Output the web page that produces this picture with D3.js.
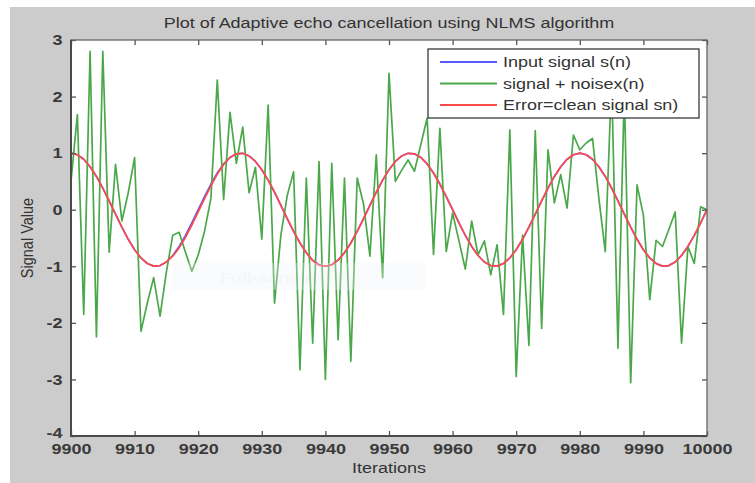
<!DOCTYPE html>
<html>
<head>
<meta charset="utf-8">
<script src="https://cdn.jsdelivr.net/npm/d3@7/dist/d3.min.js"></script>
<style>
  body { margin: 0; background: #ffffff; }
  text { font-family: Arial, "Liberation Sans", sans-serif; }
</style>
</head>
<body>
<div id="plot"></div>
<script>
// iteration index on the x axis
var iterations = d3.range(9900, 10001);
var xTicks = [9900, 9910, 9920, 9930, 9940, 9950, 9960, 9970, 9980, 9990, 10000];
var yTicks = [-4, -3, -2, -1, 0, 1, 2, 3];

// input signal s(n)
var inputSignal = [
  1.000, 0.972, 0.891, 0.760, 0.588, 0.383, 0.156, -0.078, -0.309, -0.523,
  -0.707, -0.853, -0.951, -0.997, -0.988, -0.924, -0.809, -0.649, -0.454, -0.233,
  0.000, 0.233, 0.454, 0.649, 0.809, 0.924, 0.988, 0.997, 0.951, 0.853,
  0.707, 0.523, 0.309, 0.078, -0.156, -0.383, -0.588, -0.760, -0.891, -0.972,
  -1.000, -0.972, -0.891, -0.760, -0.588, -0.383, -0.156, 0.078, 0.309, 0.523,
  0.707, 0.853, 0.951, 0.997, 0.988, 0.924, 0.809, 0.649, 0.454, 0.233,
  0.000, -0.233, -0.454, -0.649, -0.809, -0.924, -0.988, -0.997, -0.951, -0.853,
  -0.707, -0.523, -0.309, -0.078, 0.156, 0.383, 0.588, 0.760, 0.891, 0.972,
  1.000, 0.972, 0.891, 0.760, 0.588, 0.383, 0.156, -0.078, -0.309, -0.523,
  -0.707, -0.853, -0.951, -0.997, -0.988, -0.924, -0.809, -0.649, -0.454, -0.233,
  0.000
];

// signal + noise x(n)
var noisySignal = [
  0.50, 1.68, -1.85, 2.80, -2.25, 2.80, -0.75, 0.80, -0.20, 0.30,
  0.92, -2.15, -1.65, -1.20, -1.88, -1.10, -0.45, -0.40, -0.75, -1.09,
  -0.80, -0.38, 0.20, 2.29, 0.18, 1.72, 0.82, 1.46, 0.30, 0.75,
  -0.52, 1.85, -1.65, -0.45, 0.25, 0.67, -2.83, 0.56, -2.36, 0.85,
  -3.00, 0.82, -2.30, 0.56, -2.68, 0.56, 0.10, -0.82, 0.97, -1.20,
  2.41, 0.50, 0.70, 0.88, 0.68, 1.15, 1.62, -0.79, 1.44, -0.74,
  -0.06, -0.55, -1.05, -0.20, -0.80, -0.55, -1.15, -0.62, -1.85, 1.41,
  -2.95, -0.45, -2.40, 1.40, -2.10, 1.06, 0.12, 0.62, 0.03, 1.32,
  1.06, 1.18, 1.26, 0.20, -0.74, 2.30, -2.45, 2.10, -3.06, 0.44,
  -0.10, -1.59, -0.54, -0.65, -0.35, -0.04, -2.36, -0.65, -0.95, 0.05,
  0.00
];

// error = cleaned signal
var errorSignal = [
  1.000, 0.972, 0.891, 0.760, 0.588, 0.383, 0.156, -0.078, -0.309, -0.523,
  -0.707, -0.853, -0.951, -0.997, -0.988, -0.924, -0.820, -0.675, -0.490, -0.270,
  -0.040, 0.195, 0.420, 0.630, 0.800, 0.924, 0.988, 0.997, 0.951, 0.853,
  0.707, 0.523, 0.309, 0.078, -0.156, -0.383, -0.588, -0.760, -0.900, -0.978,
  -1.000, -0.972, -0.891, -0.760, -0.588, -0.383, -0.156, 0.078, 0.309, 0.523,
  0.707, 0.853, 0.951, 0.997, 0.988, 0.924, 0.809, 0.649, 0.454, 0.233,
  0.000, -0.233, -0.454, -0.649, -0.809, -0.924, -0.988, -0.997, -0.951, -0.853,
  -0.707, -0.523, -0.309, -0.078, 0.156, 0.383, 0.588, 0.760, 0.891, 0.972,
  1.000, 0.972, 0.891, 0.760, 0.588, 0.383, 0.156, -0.078, -0.309, -0.523,
  -0.707, -0.853, -0.951, -0.997, -0.988, -0.924, -0.809, -0.649, -0.454, -0.233,
  0.000
];

var legendLabels = ["Input signal s(n)", "signal + noisex(n)", "Error=clean signal sn)"];
var seriesColors = ["#5a5aff", "#4aa84a", "#ff4a4a"];

var svgWidth = 755;
var svgHeight = 483;

var margin = {
  top: 40,
  bottom: 47,
  right: 48,
  left: 71
};

var width = svgWidth - margin.left - margin.right;
var height = svgHeight - margin.top - margin.bottom;

var svg = d3.select("#plot")
  .append("svg")
  .attr("width", svgWidth)
  .attr("height", svgHeight);

// grey figure background
svg.append("rect")
  .attr("x", 10)
  .attr("y", 7)
  .attr("width", svgWidth - 10)
  .attr("height", svgHeight - 7)
  .attr("fill", "#cccccc");

var chart = svg.append("g")
  .attr("transform", "translate(" + margin.left + "," + margin.top + ")");

chart.append("rect")
  .attr("width", width)
  .attr("height", height)
  .attr("fill", "#ffffff");

var x = d3.scaleLinear()
  .domain([9900, 10000])
  .range([0, width]);

var y = d3.scaleLinear()
  .domain([-4, 3])
  .range([height, 0]);

chart.append("clipPath")
  .attr("id", "clip")
  .append("rect")
  .attr("width", width)
  .attr("height", height);

var line = d3.line()
  .x(function (d, i) { return x(iterations[i]); })
  .y(function (d) { return y(d); });

var lines = chart.append("g").attr("clip-path", "url(#clip)");
[inputSignal, noisySignal, errorSignal].forEach(function (series, i) {
  lines.append("path")
    .datum(series)
    .attr("d", line)
    .attr("fill", "none")
    .attr("stroke", seriesColors[i])
    .attr("stroke-width", i == 1 ? 1.7 : 1.7)
    .attr("stroke-linejoin", "round");
});

// plain labels, hyphen minus like matlab
var plainFormat = function (d) { return String(d); };

// axes, ticks pointing inwards like matlab
var bottomAxis = chart.append("g")
  .attr("transform", "translate(0," + height + ")")
  .call(d3.axisBottom(x).tickValues(xTicks).tickSizeInner(-5).tickSizeOuter(0).tickPadding(7).tickFormat(plainFormat));
var topAxis = chart.append("g")
  .call(d3.axisTop(x).tickValues(xTicks).tickSizeInner(-5).tickSizeOuter(0).tickFormat(""));
var leftAxis = chart.append("g")
  .call(d3.axisLeft(y).tickValues(yTicks).tickSizeInner(-5).tickSizeOuter(0).tickPadding(7).tickFormat(plainFormat));
var rightAxis = chart.append("g")
  .attr("transform", "translate(" + width + ",0)")
  .call(d3.axisRight(y).tickValues(yTicks).tickSizeInner(-5).tickSizeOuter(0).tickFormat(""));

[bottomAxis, topAxis, leftAxis, rightAxis].forEach(function (a) {
  a.select(".domain").remove();
  a.selectAll("line").attr("stroke", "#555555").attr("stroke-width", 1.3);
  a.selectAll("text")
    .attr("font-size", 15)
    .attr("font-weight", "bold")
    .attr("fill", "#3a3a3a")
    .attr("transform", "scale(1.2,1)");
});

// lowest y label sits a little higher so it clears 9900
leftAxis.selectAll("text")
  .filter(function (d) { return d == -4; })
  .attr("dy", "0.1em");

// frame
chart.append("rect")
  .attr("width", width)
  .attr("height", height)
  .attr("fill", "none")
  .attr("stroke", "#666666")
  .attr("stroke-width", 1.3);
chart.append("path")
  .attr("d", "M0,0V" + height + "H" + width)
  .attr("fill", "none")
  .attr("stroke", "#4a4a4a")
  .attr("stroke-width", 2);

// faint overlay box left in the screenshot
var ghost = svg.append("g").attr("opacity", 0.3);
ghost.append("rect")
  .attr("x", 172)
  .attr("y", 263)
  .attr("width", 253)
  .attr("height", 27)
  .attr("fill", "#eef3f6");
ghost.append("text")
  .attr("transform", "translate(220,283) scale(1.2,1)")
  .attr("font-size", 15)
  .attr("font-weight", "bold")
  .attr("fill", "#dde4ea")
  .text("Full-screen");

// title and axis labels
svg.append("text")
  .attr("transform", "translate(" + (margin.left + width / 2) + ",28) scale(1.2,1)")
  .attr("text-anchor", "middle")
  .attr("font-size", 15)
  .attr("fill", "#333333")
  .text("Plot of Adaptive echo cancellation using NLMS algorithm");

svg.append("text")
  .attr("transform", "translate(" + (margin.left + width / 2) + ",473) scale(1.2,1)")
  .attr("text-anchor", "middle")
  .attr("font-size", 15)
  .attr("fill", "#333333")
  .text("Iterations");

svg.append("text")
  .attr("transform", "translate(33," + (margin.top + height / 2) + ") scale(1.2,1) rotate(-90)")
  .attr("text-anchor", "middle")
  .attr("font-size", 14.5)
  .attr("fill", "#333333")
  .text("Signal Value");

// legend
var legend = svg.append("g")
  .attr("transform", "translate(428,49)");

legend.append("rect")
  .attr("width", 271)
  .attr("height", 69)
  .attr("fill", "#ffffff")
  .attr("stroke", "#3a3a3a")
  .attr("stroke-width", 1.3);

legendLabels.forEach(function (label, i) {
  var row = legend.append("g")
    .attr("transform", "translate(0," + (13 + i * 21.5) + ")");
  row.append("line")
    .attr("x1", 12)
    .attr("x2", 69)
    .attr("stroke", seriesColors[i])
    .attr("stroke-width", 2);
  row.append("text")
    .attr("transform", "translate(75,5) scale(1.2,1)")
    .attr("font-size", 15)
    .attr("fill", "#333333")
    .text(label);
});
</script>
</body>
</html>
